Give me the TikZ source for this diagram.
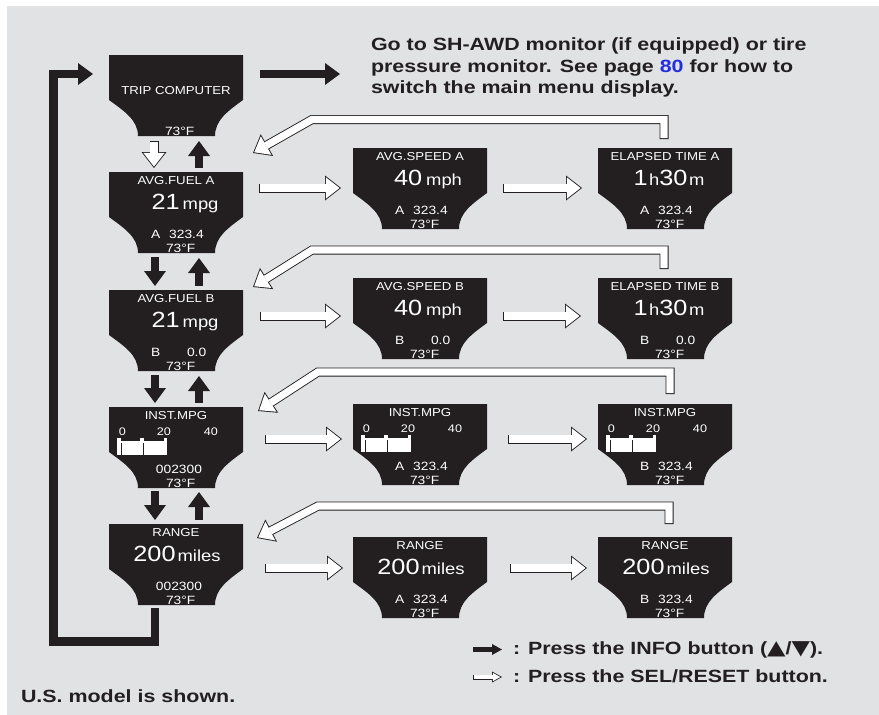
\documentclass[tikz,border=0pt]{standalone}
\usepackage{fontspec}
\setmainfont{Liberation Sans}
\newfontfamily\lcdfont[FakeStretch=1.15]{Liberation Sans}
\newfontfamily\capfont[FakeStretch=1.21]{Liberation Sans}
\newfontfamily\symfont[FakeStretch=1.2]{DejaVu Sans}
\usetikzlibrary{calc,arrows.meta}
\definecolor{bg}{RGB}{225,226,228}
\definecolor{ink}{RGB}{35,31,32}
\definecolor{pagelink}{RGB}{35,45,225}

\tikzset{
  scrbox/.style={minimum width=134pt, minimum height=81pt, inner sep=0pt, outer sep=0pt},
  lcd/.style={text=white, inner sep=0pt, outer sep=0pt, anchor=base, font=\lcdfont\fontsize{11.5}{12}\selectfont},
  lcdd/.style={lcd, font=\lcdfont\fontsize{12}{12}\selectfont},
  lcds/.style={lcd, font=\lcdfont\fontsize{11}{11}\selectfont},
  bodytext/.style={text=ink, inner sep=0pt, outer sep=0pt, anchor=base west, font=\capfont\bfseries\fontsize{17.7}{21.5}\selectfont},
  infoarrow/.style={draw=ink, line width=8.5pt, line join=miter, -{Triangle[length=15pt,width=22pt,line width=0pt]}},
  selarrow/.style={draw=ink, line width=9pt, line join=miter, -{Triangle[length=16pt,width=25pt,line width=0pt]},
     postaction={draw=white, line width=7.2pt, line join=miter, shorten <=0.9pt, shorten >=1.46pt,
       -{Triangle[length=13.6pt,width=21.3pt,line width=0pt]}}},
  leginfo/.style={draw=ink, line width=4.5pt, -{Triangle[length=10pt,width=11pt,line width=0pt]}},
  legsel/.style={draw=ink, line width=5pt, -{Triangle[length=10pt,width=11pt,line width=0pt]},
     postaction={draw=white, line width=3.4pt, shorten <=0.8pt, shorten >=1.66pt,
       -{Triangle[length=7.5pt,width=8.3pt,line width=0pt]}}},
}

\newcommand\screen[3]{%
  \node[scrbox] (#1) at ({#2},{#3+40.5}) {};
  \fill[ink] (#1.north west) -- (#1.north east) -- ($(#1.north east)+(0,45)$)
    .. controls +(-15,11) and +(0,-16) .. ($(#1.south east)+(-28,0)$)
    -- ($(#1.south west)+(29,0)$)
    .. controls +(0,-16) and +(15,11) .. ($(#1.north west)+(0,45)$) -- cycle;
}
\newcommand\bnum[1]{{\fontsize{22}{22}\selectfont #1}}
\newcommand\sunit[1]{{\fontsize{16}{16}\selectfont #1}}
\newcommand\scrtitle[2]{\node[lcd] (#1-t) at ($(#1.north)+(0,12)$) {#2};}
\newcommand\scrvalue[3]{\node[lcd] (#1-v) at ($(#1.north)+(#2,37)$) {#3};}
\newcommand\odo[4]{\node[lcdd,anchor=base west] (#1-d) at ($(#1.north)+(-25,66.5)$) {#2\hspace{#3}#4};}
\newcommand\odocount[1]{\node[lcdd] (#1-d) at ($(#1.north)+(3,66.5)$) {002300};}
\newcommand\tempF[2][-10]{\node[lcdd,anchor=base west] (#2-c) at ($(#2.north)+(#1,80)$) {73°F};}
\newcommand\instgauge[1]{%
  \node[lcds] (#1-s0) at ($(#1.north)+(-53.5,28)$) {0};
  \node[lcds] (#1-s20) at ($(#1.north)+(-12,28)$) {20};
  \node[lcds] (#1-s40) at ($(#1.north)+(35,28)$) {40};
  \fill[white] ($(#1.north)+(-59,33.5)$) rectangle ($(#1.north)+(-9,47.5)$);
  \fill[white] ($(#1.north)+(-59,31)$) rectangle ($(#1.north)+(-55.5,33.5)$);
  \fill[white] ($(#1.north)+(-36,31)$) rectangle ($(#1.north)+(-32.5,33.5)$);
  \fill[white] ($(#1.north)+(-12.5,31)$) rectangle ($(#1.north)+(-9,33.5)$);
  \fill[ink] ($(#1.north)+(-55.5,35.5)$) rectangle ($(#1.north)+(-54.3,47.5)$);
  \fill[ink] ($(#1.north)+(-33,35.5)$) rectangle ($(#1.north)+(-31.8,47.5)$);
}

\begin{document}
\begin{tikzpicture}[x=1pt,y=-1pt]
\useasboundingbox (0,0) rectangle (879,715);
\fill[white] (0,0) rectangle (879,715);
\fill[bg] (7,6) rectangle (879,715);

% ---- screens ----
\screen{tc}{176}{55}
\node[lcd] (tc-t) at ($(tc.north)+(0,39)$) {TRIP COMPUTER};
\tempF[-11]{tc}

\screen{fa}{176}{172}
\scrtitle{fa}{AVG.FUEL A}
\scrvalue{fa}{9}{\bnum{21}\hspace{3pt}\sunit{mpg}}
\odo{fa}{A}{9pt}{323.4}
\tempF{fa}

\screen{fb}{176}{290}
\scrtitle{fb}{AVG.FUEL B}
\scrvalue{fb}{9}{\bnum{21}\hspace{3pt}\sunit{mpg}}
\odo{fb}{B}{26.8pt}{0.0}
\tempF{fb}

\screen{fi}{176}{407}
\scrtitle{fi}{INST.MPG}
\instgauge{fi}
\odocount{fi}
\tempF{fi}

\screen{fr}{176}{524}
\scrtitle{fr}{RANGE}
\scrvalue{fr}{1}{\bnum{200}\hspace{2pt}\sunit{miles}}
\odocount{fr}
\tempF{fr}

\screen{sa}{420}{148}
\scrtitle{sa}{AVG.SPEED A}
\scrvalue{sa}{8}{\bnum{40}\hspace{4pt}\sunit{mph}}
\odo{sa}{A}{9pt}{323.4}
\tempF{sa}

\screen{ea}{665}{148}
\scrtitle{ea}{ELAPSED TIME A}
\scrvalue{ea}{4}{\bnum{1}\hspace{1.5pt}\sunit{h}\bnum{30}\hspace{1.5pt}\sunit{m}}
\odo{ea}{A}{9pt}{323.4}
\tempF{ea}

\screen{sb}{420}{278}
\scrtitle{sb}{AVG.SPEED B}
\scrvalue{sb}{8}{\bnum{40}\hspace{4pt}\sunit{mph}}
\odo{sb}{B}{26.8pt}{0.0}
\tempF{sb}

\screen{eb}{665}{278}
\scrtitle{eb}{ELAPSED TIME B}
\scrvalue{eb}{4}{\bnum{1}\hspace{1.5pt}\sunit{h}\bnum{30}\hspace{1.5pt}\sunit{m}}
\odo{eb}{B}{26.8pt}{0.0}
\tempF{eb}

\screen{si}{420}{404}
\scrtitle{si}{INST.MPG}
\instgauge{si}
\odo{si}{A}{9pt}{323.4}
\tempF{si}

\screen{ei}{665}{404}
\scrtitle{ei}{INST.MPG}
\instgauge{ei}
\odo{ei}{B}{9pt}{323.4}
\tempF{ei}

\screen{sr}{420}{537}
\scrtitle{sr}{RANGE}
\scrvalue{sr}{1}{\bnum{200}\hspace{2pt}\sunit{miles}}
\odo{sr}{A}{9pt}{323.4}
\tempF{sr}

\screen{er}{665}{537}
\scrtitle{er}{RANGE}
\scrvalue{er}{1}{\bnum{200}\hspace{2pt}\sunit{miles}}
\odo{er}{B}{9pt}{323.4}
\tempF{er}

% ---- INFO (black) arrows ----
\draw[infoarrow] ($(tc.north east)+(17,19)$) -- ($(tc.north east)+(97,19)$);
\draw[infoarrow] ($(tc.south)+(23,32)$) -- ($(tc.south)+(23,5)$);
\draw[infoarrow] ($(fa.south)+(-21,4)$) -- ($(fb.north)+(-21,-4)$);
\draw[infoarrow] ($(fb.north)+(23,-4)$) -- ($(fa.south)+(23,5)$);
\draw[infoarrow] ($(fb.south)+(-21,4)$) -- ($(fi.north)+(-21,-4)$);
\draw[infoarrow] ($(fi.north)+(23,-4)$) -- ($(fb.south)+(23,5)$);
\draw[infoarrow] ($(fi.south)+(-21,3)$) -- ($(fr.north)+(-21,-4)$);
\draw[infoarrow] ($(fr.north)+(23,-4)$) -- ($(fi.south)+(23,4)$);
\coordinate (lp1) at ($(fr.south)+(-21,36.5)$);
\coordinate (lp2) at ($(tc.north west)+(-55.5,19)$);
\coordinate (lp3) at ($(tc.north west)+(-16,19)$);
\draw[infoarrow] ($(fr.south)+(-21,3)$) -- (lp1) -| (lp2) -- (lp3);

% ---- SEL/RESET (hollow) arrows ----
\draw[selarrow] ($(tc.south)+(-22,5)$) -- ($(fa.north)+(-22,-4)$);
\draw[selarrow] ($(fa.north east)+(16,16)$) -- ($(sa.north west)+(-12,40)$);
\draw[selarrow] ($(sa.north east)+(16,40)$) -- ($(ea.north west)+(-16,40)$);
\draw[selarrow] ($(fb.north east)+(17,26)$) -- ($(sb.north west)+(-12,38)$);
\draw[selarrow] ($(sb.north east)+(16,38)$) -- ($(eb.north west)+(-17,38)$);
\draw[selarrow] ($(fi.north east)+(22,32)$) -- ($(si.north west)+(-11,35)$);
\draw[selarrow] ($(si.north east)+(21,35)$) -- ($(ei.north west)+(-11,35)$);
\draw[selarrow] ($(fr.north east)+(22,44)$) -- ($(sr.north west)+(-10,31)$);
\draw[selarrow] ($(sr.north east)+(23,31)$) -- ($(er.north west)+(-11,31)$);

% return arrows
\coordinate (rA1) at ($(fa.north east)+(69,-52.5)$);
\draw[selarrow] ($(ea.north)+(-1,-9)$) |- (rA1) -- ($(fa.north east)+(10,-19)$);
\coordinate (rB1) at ($(fb.north east)+(69,-40)$);
\draw[selarrow] ($(eb.north)+(-1,-9)$) |- (rB1) -- ($(fb.north east)+(10,-3)$);
\coordinate (rI1) at ($(fi.north east)+(75,-35)$);
\draw[selarrow] ($(ei.north)+(5,-10)$) |- (rI1) -- ($(fi.north east)+(15,4)$);
\coordinate (rR1) at ($(fr.north east)+(75,-18)$);
\draw[selarrow] ($(er.north)+(4,-13)$) |- (rR1) -- ($(fr.north east)+(14,14)$);

% ---- texts ----
\node[bodytext] (top1) at (371,50) {Go to SH-AWD monitor (if equipped) or tire};
\node[bodytext] (top2) at (371,72) {pressure monitor. See page {\color{pagelink}80} for how to};
\node[bodytext] (top3) at (371,93.5) {switch the main menu display.};

\coordinate (l1a) at (473,649.5);
\coordinate (l1b) at (502,649.5);
\draw[leginfo] (l1a) -- (l1b);
\coordinate (l2a) at (473,677);
\coordinate (l2b) at (502,677);
\draw[legsel] (l2a) -- (l2b);
\node[bodytext] (leg1) at (513,654) {: Press the INFO button ({\symfont\fontsize{20}{20}\selectfont ▲}/{\symfont\fontsize{20}{20}\selectfont ▼}).};
\node[bodytext] (leg2) at (513,682) {: Press the SEL/RESET button.};
\node[bodytext] (note) at (21,702) {U.S. model is shown.};
\end{tikzpicture}
\end{document}
